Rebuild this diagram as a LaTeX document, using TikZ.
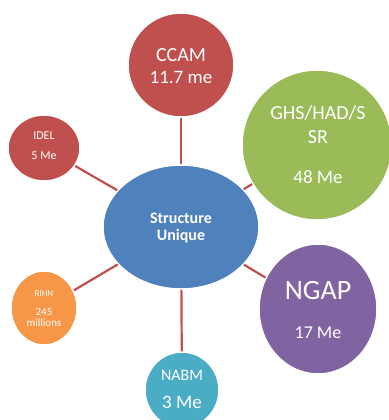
\documentclass[tikz,border=0pt]{standalone}
\usepackage{fontspec}
\setmainfont{Carlito}
\usetikzlibrary{shapes.geometric}
\definecolor{cred}{HTML}{C0504D}
\definecolor{cgreen}{HTML}{9BBB59}
\definecolor{cblue}{HTML}{4F81BD}
\definecolor{cpurple}{HTML}{8064A2}
\definecolor{corange}{HTML}{F79646}
\definecolor{cteal}{HTML}{4BACC6}
\newcommand{\fs}[1]{\fontsize{#1bp}{#1bp}\selectfont}
\tikzset{
  bubble/.style={ellipse, draw=white, line width=1.5bp, inner sep=0pt},
  txt/.style={text=white, anchor=base, inner sep=0pt, font=\fs{#1}},
  link/.style={draw=cred, line width=2.2bp},
}
\begin{document}
\begin{tikzpicture}[x=1bp,y=-1bp]
\useasboundingbox (0,0) rectangle (389,420);
\clip (0,0) rectangle (389,420);
\node[bubble, fill=cblue, minimum width=156bp, minimum height=124bp] (su) at (181,227) {};
\node[bubble, fill=cred, minimum width=106bp, minimum height=104bp] (ccam) at (181,65) {};
\node[bubble, fill=cred, minimum width=72bp, minimum height=66bp] (idel) at (44,148) {};
\node[bubble, fill=cgreen, minimum width=150bp, minimum height=150bp] (ghs) at (317,145) {};
\node[bubble, fill=cpurple, minimum width=118bp, minimum height=130bp] (ngap) at (318,309) {};
\node[bubble, fill=corange, minimum width=66bp, minimum height=74bp] (rihn) at (44,308) {};
\node[bubble, fill=cteal, minimum width=74bp, minimum height=76bp] (nabm) at (182,390) {};
\begin{pgfonlayer}{main}\end{pgfonlayer}
% texts
\node[txt=16] (su1) at (181,223) {\bfseries Structure};
\node[txt=16] (su2) at (181,240) {\bfseries Unique};
\node[txt=20] (cc1) at (181,61.5) {CCAM};
\node[txt=19] (cc2) at (181,83) {11.7 me};
\node[txt=12] (id1) at (44,139) {IDEL};
\node[txt=12] (id2) at (44,159) {5 Me};
\node[txt=20] (gh1) at (318,119.5) {GHS/HAD/S};
\node[txt=20] (gh2) at (318,143) {SR};
\node[txt=19] (gh3) at (318,183) {48 Me};
\node[txt=28] (ng1) at (318,299) {NGAP};
\node[txt=18] (ng2) at (318,338) {17 Me};
\node[txt=9] (ri1) at (44,296) {RIHN};
\node[txt=11] (ri2) at (44,315.5) {245};
\node[txt=11] (ri3) at (44,326.5) {millions};
\node[txt=16] (na1) at (182,380) {NABM};
\node[txt=19] (na2) at (182,408) {3 Me};
\draw[link] (su) -- (ccam);
\draw[link] (su) -- (idel);
\draw[link] (su) -- (ghs);
\draw[link] (su) -- (ngap);
\draw[link] (su) -- (rihn);
\draw[link] (su) -- (nabm);
\end{tikzpicture}
\end{document}
